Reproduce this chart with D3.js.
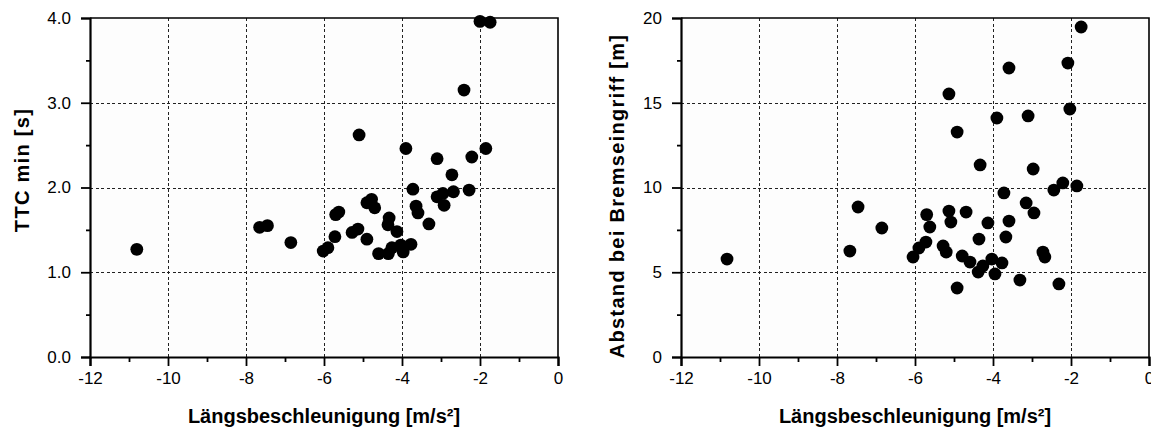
<!DOCTYPE html>
<html><head><meta charset="utf-8">
<script src="https://cdn.jsdelivr.net/npm/d3@7"></script>
<style>
body{margin:0;background:#fff;}
svg{display:block;font-family:"Liberation Sans",Arial,sans-serif;}
</style></head>
<body><svg id="c" width="1151" height="431"></svg>
<script>
// ---- data ----
const xTicks = [-12,-10,-8,-6,-4,-2,0];
const xMinor = [-11,-9,-7,-5,-3,-1];
const ttcTicks = [0,1,2,3,4];
const ttcMinor = [0.5,1.5,2.5,3.5];
const distTicks = [0,5,10,15,20];
const distMinor = [2.5,7.5,12.5,17.5];

const ttcAccel = [-10.8,-7.65,-7.45,-6.85,-6.02,-5.9,-5.72,-5.7,-5.62,-5.28,-5.13,-5.1,-4.9,-4.9,-4.78,-4.7,-4.6,-4.35,-4.36,-4.33,-4.26,-4.13,-4.03,-3.97,-3.9,-3.77,-3.72,-3.64,-3.59,-3.31,-3.1,-3.1,-2.95,-2.92,-2.72,-2.68,-2.41,-2.28,-2.21,-2.0,-1.85,-1.74];
const ttcValues = [1.27,1.53,1.55,1.35,1.25,1.29,1.42,1.68,1.71,1.47,1.51,2.62,1.39,1.82,1.86,1.76,1.22,1.22,1.56,1.64,1.29,1.48,1.32,1.24,2.46,1.33,1.98,1.78,1.70,1.57,2.34,1.89,1.93,1.79,2.15,1.95,3.15,1.97,2.36,3.96,2.46,3.95];

const distAccel = [-10.82,-7.67,-7.46,-6.85,-6.05,-5.9,-5.72,-5.7,-5.62,-5.28,-5.2,-5.13,-5.08,-5.13,-4.92,-4.92,-4.79,-4.69,-4.59,-4.36,-4.38,-4.33,-4.26,-4.13,-4.03,-3.95,-3.9,-3.77,-3.72,-3.67,-3.59,-3.59,-3.31,-3.15,-3.1,-2.97,-2.95,-2.72,-2.67,-2.44,-2.31,-2.21,-2.08,-2.03,-1.85,-1.74];
const distValues = [5.78,6.25,8.85,7.61,5.90,6.43,6.78,8.40,7.67,6.55,6.19,8.61,7.96,15.52,4.07,13.27,5.96,8.55,5.60,6.96,5.01,11.33,5.37,7.91,5.78,4.90,14.10,5.55,9.68,7.08,8.02,17.05,4.54,9.09,14.22,11.09,8.50,6.19,5.90,9.85,4.31,10.27,17.34,14.63,10.09,19.47];

const xTitle = "Längsbeschleunigung [m/s²]";

// ---- drawing ----
const svg = d3.select("#c");
const yTop = 18, yBot = 357;

function panel(cfg){
  const x = d3.scaleLinear().domain([-12,0]).range([cfg.x0, cfg.x1]);
  const y = d3.scaleLinear().domain([cfg.yTicks[0], cfg.yTicks[cfg.yTicks.length-1]]).range([yBot, yTop]);
  const g = svg.append("g");
  g.append("rect").attr("x",cfg.x0).attr("y",yTop).attr("width",cfg.x1-cfg.x0).attr("height",yBot-yTop).attr("fill","#fdfdfd");
  const grid = g.append("g").attr("stroke","#222").attr("stroke-width",1).attr("stroke-dasharray","3,2.5").attr("shape-rendering","crispEdges");
  grid.selectAll("line.v").data(xTicks.slice(1,-1)).join("line")
    .attr("x1",d=>Math.round(x(d))+0.5).attr("x2",d=>Math.round(x(d))+0.5).attr("y1",yTop).attr("y2",yBot);
  grid.selectAll("line.h").data(cfg.yTicks.slice(1,-1)).join("line")
    .attr("y1",d=>Math.round(y(d))+0.5).attr("y2",d=>Math.round(y(d))+0.5).attr("x1",cfg.x0).attr("x2",cfg.x1);
  g.append("path").attr("d",`M${cfg.x0},${yTop}H${cfg.x1}V${yBot}`).attr("fill","none").attr("stroke","#000").attr("stroke-width",1.6);
  g.append("g").selectAll("circle").data(cfg.xs.map((v,i)=>[v,cfg.ys[i]])).join("circle")
    .attr("cx",d=>x(d[0])).attr("cy",d=>y(d[1])).attr("r",6.4).attr("fill","#000");
  g.append("g").attr("transform",`translate(0,${yBot})`)
    .call(d3.axisBottom(x).tickValues(xTicks).tickFormat(d=>String(d)).tickSize(9).tickPadding(6));
  g.append("g").attr("transform",`translate(0,${yBot})`)
    .call(d3.axisBottom(x).tickValues(xMinor).tickFormat("").tickSize(5))
    .call(s=>s.select(".domain").remove());
  g.append("g").attr("transform",`translate(${cfg.x0},0)`)
    .call(d3.axisLeft(y).tickValues(cfg.yTicks).tickFormat(cfg.fmt).tickSize(9).tickPadding(10));
  g.append("g").attr("transform",`translate(${cfg.x0},0)`)
    .call(d3.axisLeft(y).tickValues(cfg.yMinor).tickFormat("").tickSize(4))
    .call(s=>s.select(".domain").remove());
  g.selectAll(".domain").attr("stroke-width",2.2).attr("stroke","#000");
  g.selectAll(".tick line").attr("stroke-width",1.8).attr("stroke","#000");
  g.selectAll(".tick text").attr("font-size",17).attr("font-family","'Liberation Sans',Arial,sans-serif").attr("fill","#000");
  g.append("text").attr("x",(cfg.x0+cfg.x1)/2).attr("y",423).attr("text-anchor","middle")
    .attr("font-size",20).attr("font-weight","bold").text(xTitle);
  g.append("text").attr("transform",`translate(${cfg.titleX},${cfg.titleY}) rotate(-90)`).attr("text-anchor","middle")
    .attr("font-size",20).attr("letter-spacing",1.3).attr("font-weight","bold").text(cfg.yTitle);
}

panel({x0:90,x1:558,yTicks:ttcTicks,yMinor:ttcMinor,fmt:d3.format(".1f"),xs:ttcAccel,ys:ttcValues,yTitle:"TTC min [s]",titleX:29,titleY:170});
panel({x0:681,x1:1149,yTicks:distTicks,yMinor:distMinor,fmt:d3.format("d"),xs:distAccel,ys:distValues,yTitle:"Abstand bei Bremseingriff [m]",titleX:624,titleY:196});
</script></body></html>
